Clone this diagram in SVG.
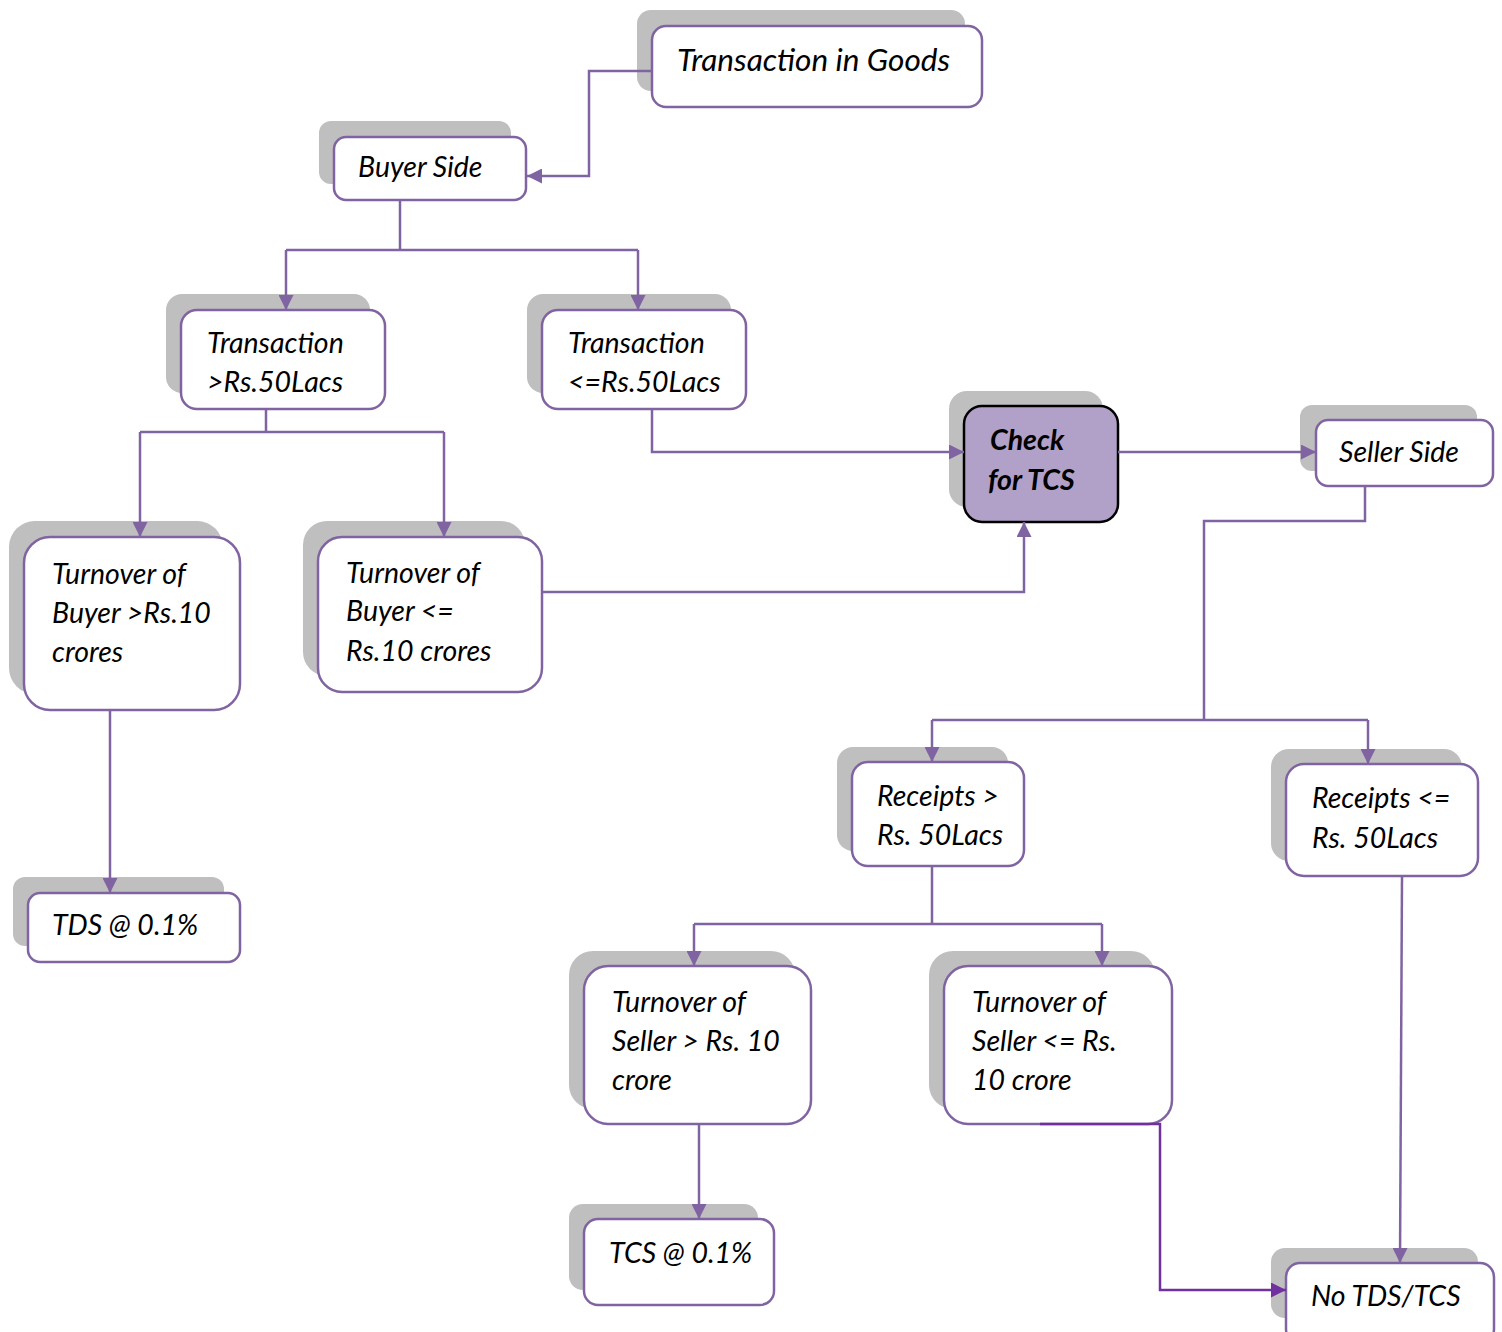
<svg xmlns="http://www.w3.org/2000/svg" width="1502" height="1332" viewBox="0 0 1502 1332">
<style>
.sh{fill:#bfbfbf}
.bx{fill:#ffffff;stroke:#8064a2;stroke-width:2.5}
.hl{fill:#b1a0c7;stroke:#000000;stroke-width:2.5}
.t{font-family:Lato,"Open Sans",sans-serif;font-style:italic;font-size:28.5px;fill:#000}
.tl{font-family:Lato,"Open Sans",sans-serif;font-style:italic;font-size:31.5px;fill:#000}
.tb{font-family:Lato,"Open Sans",sans-serif;font-style:italic;font-weight:bold;font-size:28.5px;fill:#000}
.c{fill:none;stroke:#8064a2;stroke-width:2.5}
.cd{fill:none;stroke:#7030a0;stroke-width:2.5}
</style>
<defs>
<marker id="a" viewBox="0 0 14 14" refX="14" refY="7" markerWidth="15" markerHeight="15" markerUnits="userSpaceOnUse" orient="auto"><path d="M0,0 L14,7 L0,14 z" fill="#8064a2"/></marker>
<marker id="ad" viewBox="0 0 14 14" refX="14" refY="7" markerWidth="15" markerHeight="15" markerUnits="userSpaceOnUse" orient="auto"><path d="M0,0 L14,7 L0,14 z" fill="#7030a0"/></marker>
</defs>
<rect width="1502" height="1332" fill="#ffffff"/>
<g id="n1"><rect class="sh" x="637" y="10" width="328" height="81" rx="14"/><rect class="bx" x="652" y="26" width="330" height="81" rx="14"/><text class="tl" x="677" y="71">Transaction in Goods</text></g>
<g id="n2"><rect class="sh" x="319" y="121" width="192" height="63" rx="12"/><rect class="bx" x="334" y="137" width="192" height="63" rx="12"/><text class="t" x="358" y="177">Buyer Side</text></g>
<g id="n3"><rect class="sh" x="166" y="294" width="204" height="99" rx="16"/><rect class="bx" x="181" y="310" width="204" height="99" rx="16"/><text class="t" x="207" y="353">Transaction</text><text class="t" x="207" y="392">&gt;Rs.50Lacs</text></g>
<g id="n4"><rect class="sh" x="527" y="294" width="204" height="99" rx="16"/><rect class="bx" x="542" y="310" width="204" height="99" rx="16"/><text class="t" x="568" y="353">Transaction</text><text class="t" x="568" y="392">&lt;=Rs.50Lacs</text></g>
<g id="n5"><rect class="sh" x="949" y="391" width="154" height="116" rx="18"/><rect class="hl" x="964" y="406" width="154" height="116" rx="18"/><text class="tb" x="990" y="450">Check</text><text class="tb" x="988" y="490">for TCS</text></g>
<g id="n6"><rect class="sh" x="1300" y="405" width="177" height="66" rx="12"/><rect class="bx" x="1316" y="420" width="177" height="66" rx="12"/><text class="t" x="1339" y="462">Seller Side</text></g>
<g id="n7"><rect class="sh" x="9" y="521" width="214" height="173" rx="26"/><rect class="bx" x="24" y="537" width="216" height="173" rx="26"/><text class="t" x="52" y="584">Turnover of</text><text class="t" x="52" y="623">Buyer &gt;Rs.10</text><text class="t" x="52" y="662">crores</text></g>
<g id="n8"><rect class="sh" x="303" y="521" width="222" height="155" rx="24"/><rect class="bx" x="318" y="537" width="224" height="155" rx="24"/><text class="t" x="346" y="583">Turnover of</text><text class="t" x="346" y="621">Buyer &lt;=</text><text class="t" x="346" y="661">Rs.10 crores</text></g>
<g id="n9"><rect class="sh" x="13" y="877" width="211" height="69" rx="12"/><rect class="bx" x="28" y="893" width="212" height="69" rx="12"/><text class="t" x="52" y="935">TDS @ 0.1%</text></g>
<g id="n10"><rect class="sh" x="837" y="747" width="171" height="104" rx="16"/><rect class="bx" x="852" y="762" width="172" height="104" rx="16"/><text class="t" x="877" y="806">Receipts &gt;</text><text class="t" x="877" y="845">Rs. 50Lacs</text></g>
<g id="n11"><rect class="sh" x="1271" y="749" width="191" height="112" rx="18"/><rect class="bx" x="1286" y="764" width="192" height="112" rx="18"/><text class="t" x="1312" y="808">Receipts &lt;=</text><text class="t" x="1312" y="848">Rs. 50Lacs</text></g>
<g id="n12"><rect class="sh" x="569" y="951" width="226" height="158" rx="24"/><rect class="bx" x="584" y="966" width="227" height="158" rx="24"/><text class="t" x="612" y="1012">Turnover of</text><text class="t" x="612" y="1051">Seller &gt; Rs. 10</text><text class="t" x="612" y="1090">crore</text></g>
<g id="n13"><rect class="sh" x="929" y="951" width="226" height="158" rx="24"/><rect class="bx" x="944" y="966" width="228" height="158" rx="24"/><text class="t" x="972" y="1012">Turnover of</text><text class="t" x="972" y="1051">Seller &lt;= Rs.</text><text class="t" x="972" y="1090">10 crore</text></g>
<g id="n14"><rect class="sh" x="569" y="1204" width="189" height="86" rx="14"/><rect class="bx" x="584" y="1219" width="190" height="86" rx="14"/><text class="t" x="609" y="1263">TCS @ 0.1%</text></g>
<g id="n15"><rect class="sh" x="1271" y="1248" width="207" height="70" rx="14"/><rect class="bx" x="1286" y="1263" width="208" height="80" rx="14"/><text class="t" x="1311" y="1306">No TDS/TCS</text></g>
<g id="connectors">
<path class="c" d="M652,71 H589 V176 H527" marker-end="url(#a)"/>
<path class="c" d="M400,200 V250 M286,250 H638"/>
<path class="c" d="M286,250 V310" marker-end="url(#a)"/>
<path class="c" d="M638,250 V310" marker-end="url(#a)"/>
<path class="c" d="M266,409 V432 M140,432 H444"/>
<path class="c" d="M140,432 V537" marker-end="url(#a)"/>
<path class="c" d="M444,432 V537" marker-end="url(#a)"/>
<path class="c" d="M652,409 V452 H964" marker-end="url(#a)"/>
<path class="c" d="M542,592 H1024 V522" marker-end="url(#a)"/>
<path class="c" d="M1118,452 H1316" marker-end="url(#a)"/>
<path class="c" d="M1365,486 V521 H1204 V720 M932,720 H1368"/>
<path class="c" d="M932,720 V762" marker-end="url(#a)"/>
<path class="c" d="M1368,720 V764" marker-end="url(#a)"/>
<path class="c" d="M110,710 V893" marker-end="url(#a)"/>
<path class="c" d="M932,866 V924 M694,924 H1102"/>
<path class="c" d="M694,924 V966" marker-end="url(#a)"/>
<path class="c" d="M1102,924 V966" marker-end="url(#a)"/>
<path class="c" d="M699,1124 V1219" marker-end="url(#a)"/>
<path class="c" d="M1402,876 L1400,1263" marker-end="url(#a)"/>
<path class="cd" d="M1040,1124 H1160 V1290 H1286" marker-end="url(#ad)"/>
</g>
</svg>
